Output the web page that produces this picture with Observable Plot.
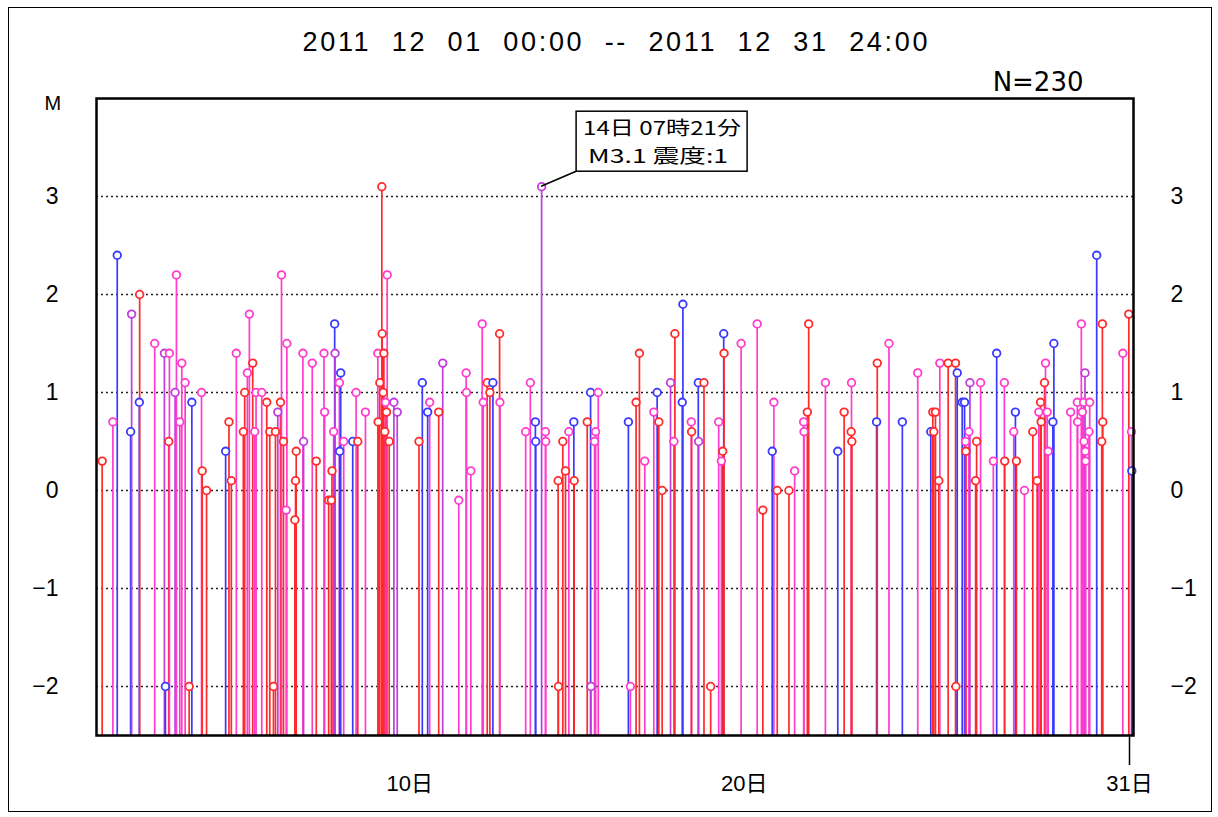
<!DOCTYPE html>
<html><head><meta charset="utf-8">
<script src="https://cdn.jsdelivr.net/npm/d3@7"></script>
<script src="https://cdn.jsdelivr.net/npm/@observablehq/plot@0.6"></script>
<style>
html,body{margin:0;padding:0;background:#fff;}
#chart{position:relative;width:1218px;height:817px;overflow:hidden;}
#border{position:absolute;left:8px;top:7px;width:1204px;height:805px;border:1px solid #000;box-sizing:border-box;pointer-events:none}
</style></head>
<body><div id="chart"><div id="border"></div></div>
<script>
// time = days since 2011-12-01 00:00, M = magnitude
const redT = [0.17,1.29,2.16,2.77,3.16,3.29,3.96,4.03,4.39,4.43,4.67,5.09,5.18,5.29,5.35,5.50,5.59,5.93,5.95,5.97,6.57,6.94,7.02,7.04,7.81,8.42,8.47,8.53,8.54,8.57,8.59,8.62,8.67,8.75,9.64,10.23,11.68,11.76,12.05,13.80,13.81,13.94,14.02,14.28,14.67,16.13,16.23,16.81,16.91,17.29,17.79,18.16,18.36,18.72,18.76,19.92,20.35,20.70,21.25,21.29,22.35,22.56,22.58,23.34,25.00,25.03,25.08,25.18,25.46,25.68,25.69,25.99,26.28,26.31,27.15,27.50,27.99,28.12,28.22,28.24,28.34,30.05,30.07,30.08,30.86];
const redM = [0.3,2.0,0.5,-2.0,0.2,0.0,0.7,0.1,0.6,1.0,1.3,0.9,0.6,-2.0,0.6,0.9,0.5,-0.3,0.1,0.4,0.3,-0.1,-0.1,0.2,0.5,0.7,1.1,3.1,1.6,1.0,1.4,0.6,0.8,0.5,0.5,0.8,1.1,1.0,1.6,0.1,-2.0,0.5,0.2,0.1,0.7,0.9,1.4,0.7,0.0,1.6,0.6,1.1,-2.0,0.4,1.4,-0.2,0.0,0.0,0.8,1.7,0.8,0.6,0.5,1.3,0.8,0.6,0.8,0.1,1.3,1.3,-2.0,0.4,0.1,0.5,0.3,0.3,0.6,0.1,0.9,0.7,1.1,0.5,1.7,0.7,1.8];
const blueT = [0.62,1.02,1.28,2.06,2.85,3.86,7.12,7.27,7.30,7.66,9.74,9.90,11.85,13.12,13.13,14.27,14.77,15.90,16.76,17.51,17.53,17.99,18.75,20.20,22.16,23.32,24.09,24.94,25.73,25.88,25.95,26.91,27.47,28.59,28.62,29.90,30.95];
const blueM = [2.4,0.6,0.9,-2.0,0.9,0.4,1.7,0.4,1.2,0.5,1.1,0.8,1.1,0.7,0.5,0.7,1.0,0.7,1.0,0.9,1.9,1.1,1.6,0.4,0.4,0.7,0.7,0.6,1.2,0.9,0.9,1.4,0.8,0.7,1.5,2.4,0.2];
const magT = [0.49,1.74,2.18,2.39,2.49,2.55,2.65,3.14,4.18,4.51,4.57,4.73,4.77,4.94,5.53,5.67,5.69,6.17,6.45,6.80,6.82,7.09,7.26,7.39,7.76,8.04,8.41,8.64,8.69,9.96,10.83,11.05,11.06,11.19,11.53,11.56,12.06,12.83,12.97,13.42,13.43,14.12,14.89,14.92,15.00,15.96,16.39,16.66,17.26,17.78,18.60,18.68,19.27,19.75,20.25,20.87,21.14,21.15,21.79,22.57,23.69,24.55,25.21,25.98,26.08,26.43,26.81,27.14,27.42,27.74,28.17,28.37,28.42,28.45,29.12,29.32,29.33,29.44,29.47,29.51,29.52,29.56,29.57,29.67,29.69,30.68,30.94];
const magM = [0.7,1.5,1.4,2.2,0.7,1.3,1.1,1.0,1.4,1.2,1.8,0.6,1.0,1.0,2.2,-0.2,1.5,1.4,1.3,1.4,0.8,0.6,1.1,0.5,1.0,0.8,1.4,0.9,2.2,0.9,-0.1,1.2,1.0,0.2,1.7,0.9,0.9,0.6,1.1,0.6,0.5,0.6,0.5,0.6,1.0,-2.0,0.3,0.8,0.5,0.7,0.7,0.3,1.5,1.7,0.9,0.2,0.7,0.6,1.1,1.1,1.5,1.2,1.3,0.5,0.6,1.1,0.3,1.1,0.6,0.0,0.8,1.3,0.8,0.4,0.8,0.9,0.7,1.7,0.8,0.9,0.5,0.4,0.3,0.6,0.9,1.4,0.6];
const purT = [1.05,2.03,2.35,5.42,6.19,7.13,8.89,8.99,10.35,13.306,14.78,17.16,18.00,26.11,29.55];
const purM = [1.8,1.4,1.0,0.8,0.5,1.4,0.9,0.8,1.3,3.1,-2.0,1.1,0.5,1.1,1.2];

const yTicks = [-2,-1,0,1,2,3];
const xTicksInner = [10,20];
const xTickEnd = [31];
const xTickLabel = d => d + "日";
const titleText = "2011  12  01  00:00  --  2011  12  31  24:00";
const countText = "N=230";
const yLabel = "M";
const noteT = 13.306;
const noteLines = ["14日 07時21分", "M3.1 震度:1"];

const groups = [["r", redT, redM], ["b", blueT, blueM], ["m", magT, magM], ["p", purT, purM]];
const events = groups.flatMap(([c, T, M]) => T.map((t, i) => ({t, m: M[i], c})))
  .sort((a, b) => a.t - b.t);
const noteEv = events.find(e => e.t === noteT);

const FONT = "'Liberation Sans', 'Noto Sans CJK JP', sans-serif";
const WIDE = "'DejaVu Sans', sans-serif";
const CJK = "'Noto Sans CJK JP', sans-serif";

function styled(attrs) {
  return (index, scales, values, dims, ctx, next) => {
    const g = next(index, scales, values, dims, ctx);
    d3.select(g).selectAll("text").each(function() {
      for (const [k, v] of Object.entries(attrs)) this.setAttribute(k, v);
    });
    return g;
  };
}

function noteMark(index, scales, values, dims) {
  const px = scales.x(noteEv.t), py = scales.y(noteEv.m);
  const bx = px + 35, bw = 171, bh = 60, by = py - 15 - bh;
  const g = d3.create("svg:g");
  g.append("line").attr("x1", px).attr("y1", py).attr("x2", bx).attr("y2", by + bh)
    .attr("stroke", "#000").attr("stroke-width", 1.5);
  g.append("rect").attr("x", bx).attr("y", by).attr("width", bw).attr("height", bh)
    .attr("fill", "#fff").attr("stroke", "#000").attr("stroke-width", 1.5);
  const lens = [158, 140], offs = [7, 12];
  noteLines.forEach((s, i) => {
    g.append("text").attr("x", bx + offs[i]).attr("y", by + 17 + i * 28)
      .attr("dy", "0.35em").attr("font-family", CJK).attr("font-size", 19)
      .attr("text-anchor", "start")
      .attr("textLength", lens[i]).attr("lengthAdjust", "spacingAndGlyphs")
      .attr("fill", "#000").text(s);
  });
  return g.node();
}

const fmtY = d => (d < 0 ? "−" : "") + Math.abs(d);

const chart = Plot.plot({
  width: 1218, height: 817,
  marginLeft: 96, marginRight: 85, marginTop: 98, marginBottom: 82,
  style: {fontFamily: FONT, fontSize: "22px", background: "transparent", color: "#000"},
  x: {domain: [0, 31], label: null},
  y: {domain: [-2.5, 4], label: null},
  color: {domain: ["r", "b", "m", "p"], range: ["#ff2a2a", "#3a3aff", "#ff3ccc", "#c03cdc"]},
  marks: [
    Plot.ruleY(yTicks, {stroke: "#222", strokeWidth: 1.6, strokeDasharray: "2,3"}),
    Plot.ruleX(events, {x: "t", y1: -2.5, y2: "m", stroke: "c", strokeWidth: 1.7}),
    Plot.dot(events, {x: "t", y: "m", stroke: "c", fill: "white", r: 3.8, strokeWidth: 1.8}),
    Plot.axisY({anchor: "left", ticks: yTicks, tickSize: 0, tickPadding: 38, fontSize: 23, tickFormat: fmtY}),
    Plot.axisY({anchor: "right", ticks: yTicks, tickSize: 0, tickPadding: 37, fontSize: 23, tickFormat: fmtY}),
    Plot.axisX({anchor: "bottom", ticks: xTicksInner, tickSize: 0, tickPadding: 40, fontSize: 22,
      tickFormat: xTickLabel, textAnchor: "end", dx: 2}),
    Plot.axisX({anchor: "bottom", ticks: xTickEnd, tickSize: 30, tickPadding: 10, fontSize: 22, stroke: "#000", strokeWidth: 1.5,
      tickFormat: xTickLabel, dx: -4}),
    Plot.frame({stroke: "#000", strokeWidth: 2.5}),
    Plot.text([titleText], {frameAnchor: "top", dy: -56, fontSize: 27, lineAnchor: "middle",
      render: styled({"textLength": 625, "lengthAdjust": "spacing", "style": "white-space:pre"})}),
    Plot.text([countText], {frameAnchor: "top-right", dx: -50, dy: -16, fontSize: 26, fontFamily: WIDE, textAnchor: "end", lineAnchor: "middle"}),
    Plot.text([yLabel], {frameAnchor: "top-left", dx: -52, dy: 5, fontSize: 20, lineAnchor: "middle"}),
    noteMark
  ]
});
document.getElementById("chart").prepend(chart);
</script>
</body></html>
